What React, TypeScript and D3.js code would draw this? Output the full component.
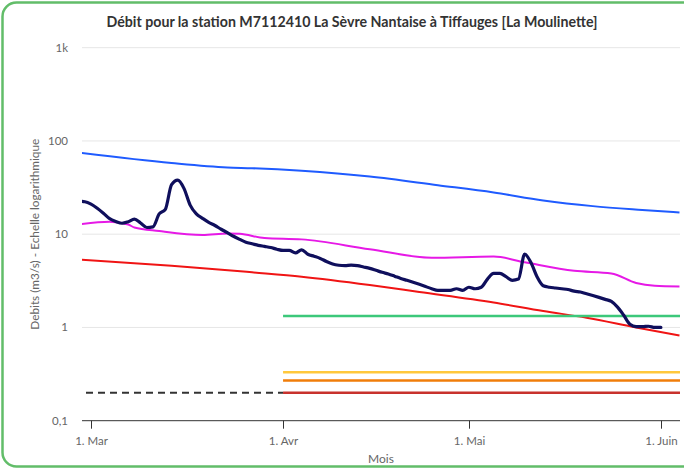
import React, { Component } from 'react'
import { select, scaleLog, scaleTime, line, curveMonotoneX, timeParse, timeDay } from 'd3'

const WIDTH = 684
const HEIGHT = 470

const title = 'Débit pour la station M7112410 La Sèvre Nantaise à Tiffauges [La Moulinette]'
const yTitle = 'Debits (m3/s) - Echelle logarithmique'
const xTitle = 'Mois'

// daily discharge (m3/s), one value per day starting at flowStart
const flowStart = '2023-02-27'
const flowValues = [
  22.6, 22.3, 21, 19, 16.8, 14.7, 13.7, 13.1, 13.6, 14.5,
  13.2, 11.8, 12.0, 16.5, 18.5, 34, 38, 31, 20.5, 16.5,
  14.8, 13.4, 12.4, 11.3, 10.4, 9.5, 8.8, 8.2, 7.9, 7.6,
  7.4, 7.2, 6.9, 6.7, 6.7, 6.3, 6.8, 6.1, 5.8, 5.5,
  5.1, 4.8, 4.65, 4.6, 4.65, 4.6, 4.45, 4.3, 4.1, 3.9,
  3.75, 3.55, 3.35, 3.2, 3.05, 2.9, 2.75, 2.6, 2.5, 2.5,
  2.5, 2.6, 2.5, 2.7, 2.6, 2.7, 3.3, 3.8, 3.8, 3.5,
  3.2, 3.3, 6.1, 5.0, 3.5, 2.8, 2.7, 2.65, 2.6, 2.55,
  2.45, 2.4, 2.3, 2.2, 2.1, 2.0, 1.9, 1.65, 1.35, 1.08,
  1.02, 1.02, 1.03, 1.0, 1.0
]

// reference curves
const blueDates = ['2023-02-27', '2023-03-14', '2023-03-23', '2023-03-27', '2023-04-04', '2023-04-15', '2023-04-26', '2023-05-05', '2023-05-13', '2023-05-21', '2023-05-29', '2023-06-04']
const blueValues = [75, 58, 52, 51, 47.8, 41.5, 33.5, 28, 23, 20, 18.2, 17.1]

const magentaDates = ['2023-02-27', '2023-03-04', '2023-03-07', '2023-03-08', '2023-03-12', '2023-03-19', '2023-03-23', '2023-03-25', '2023-03-29', '2023-04-04', '2023-04-15', '2023-04-25', '2023-05-05', '2023-05-10', '2023-05-18', '2023-05-24', '2023-05-28', '2023-05-31', '2023-06-04']
const magentaValues = [12.7, 13.6, 12.7, 11.8, 10.8, 9.8, 10.2, 10.1, 9.1, 8.8, 6.9, 5.6, 5.75, 5.0, 4.05, 3.8, 3.0, 2.8, 2.75]

const redDates = ['2023-02-27', '2023-03-14', '2023-03-27', '2023-04-04', '2023-04-15', '2023-04-23', '2023-05-05', '2023-05-13', '2023-05-20', '2023-05-28', '2023-06-04']
const redValues = [5.35, 4.6, 3.9, 3.5, 2.85, 2.4, 1.85, 1.5, 1.27, 1.0, 0.82]

// alert thresholds, from 1 April
const thresholdStart = '2023-04-01'
const thresholdValues = [1.33, 0.33, 0.27, 0.2]
const thresholdColors = ['#3cc87a', '#ffc83c', '#f07d0a', '#c8322d']
const dashedValue = 0.2

const yTickValues = [0.1, 1, 10, 100, 1000]
const yTickLabels = ['0,1', '1', '10', '100', '1k']
const xTickDates = ['2023-03-01', '2023-04-01', '2023-05-01', '2023-06-01']
const xTickLabels = ['1. Mar', '1. Avr', '1. Mai', '1. Juin']

const parse = timeParse('%Y-%m-%d')
const font = 'Lato, "Open Sans", sans-serif'

class FlowChart extends Component {
  node: any

  componentDidMount() {
    this.createChart()
  }

  createChart = () => {
    const svg = select(this.node)
    svg.selectAll('*').remove()

    const left = 82, right = 680, top = 47.7, bottom = 420.7

    const x = scaleTime()
      .domain([new Date(2023, 1, 27, 13), new Date(2023, 5, 4, 2)])
      .range([left, right])
    const y = scaleLog().domain([0.1, 1000]).range([bottom, top])

    // card border
    svg.append('rect')
      .attr('x', 2.5).attr('y', 2.5)
      .attr('width', 740).attr('height', 464)
      .attr('rx', 14)
      .attr('fill', '#fff')
      .attr('stroke', '#62bd69')
      .attr('stroke-width', 2.5)

    svg.append('defs').append('clipPath').attr('id', 'plot')
      .append('rect')
      .attr('x', left).attr('y', top - 5)
      .attr('width', right - left).attr('height', bottom - top + 5)

    // grid + y labels
    yTickValues.forEach((v, i) => {
      if (v > 0.1) {
        svg.append('line')
          .attr('x1', left).attr('x2', right)
          .attr('y1', y(v)).attr('y2', y(v))
          .attr('stroke', '#e6e6e6').attr('stroke-width', 1)
      }
      svg.append('text')
        .attr('x', 68).attr('y', y(v) + 4)
        .attr('text-anchor', 'end')
        .attr('font-family', font).attr('font-size', 11.5)
        .attr('fill', '#666')
        .text(yTickLabels[i])
    })

    // x axis
    svg.append('line')
      .attr('x1', left).attr('x2', right)
      .attr('y1', bottom).attr('y2', bottom)
      .attr('stroke', '#333').attr('stroke-width', 1)
    xTickDates.forEach((d, i) => {
      const px = Math.round(x(parse(d))) + 0.5
      svg.append('line')
        .attr('x1', px).attr('x2', px)
        .attr('y1', bottom).attr('y2', bottom + 8)
        .attr('stroke', '#333').attr('stroke-width', 1)
      svg.append('text')
        .attr('x', px).attr('y', bottom + 24)
        .attr('text-anchor', 'middle')
        .attr('font-family', font).attr('font-size', 11.5)
        .attr('fill', '#666')
        .text(xTickLabels[i])
    })

    const g = svg.append('g').attr('clip-path', 'url(#plot)')

    const curve = line<any>()
      .x(d => x(d[0]))
      .y(d => y(d[1]))
      .curve(curveMonotoneX)

    const drawCurve = (dates: string[], values: number[], color: string, w: number) => {
      g.append('path')
        .datum(dates.map((d, i) => [parse(d), values[i]]))
        .attr('fill', 'none')
        .attr('stroke', color)
        .attr('stroke-width', w)
        .attr('stroke-linejoin', 'round')
        .attr('d', curve)
    }

    drawCurve(blueDates, blueValues, '#1f5bff', 2)
    drawCurve(magentaDates, magentaValues, '#e619e6', 2)
    drawCurve(redDates, redValues, '#f01414', 2)

    // thresholds
    const tStart = parse(thresholdStart)
    thresholdValues.forEach((v, i) => {
      g.append('line')
        .attr('x1', x(tStart)).attr('x2', right)
        .attr('y1', y(v)).attr('y2', y(v))
        .attr('stroke', thresholdColors[i]).attr('stroke-width', 2.5)
    })
    g.append('line')
      .attr('x1', left + 4).attr('x2', x(tStart))
      .attr('y1', y(dashedValue)).attr('y2', y(dashedValue))
      .attr('stroke', '#333').attr('stroke-width', 2)
      .attr('stroke-dasharray', '7,5')

    // observed discharge
    const start = parse(flowStart)
    g.append('path')
      .datum(flowValues.map((v, i) => [timeDay.offset(start, i), v]))
      .attr('fill', 'none')
      .attr('stroke', '#0f0f5c')
      .attr('stroke-width', 3.2)
      .attr('stroke-linejoin', 'round')
      .attr('stroke-linecap', 'round')
      .attr('d', curve)

    // titles
    svg.append('text')
      .attr('x', 352).attr('y', 27)
      .attr('text-anchor', 'middle')
      .attr('font-family', font).attr('font-size', 14.2).attr('font-weight', 'bold')
      .attr('fill', '#333')
      .text(title)
    svg.append('text')
      .attr('x', (left + right) / 2).attr('y', 463)
      .attr('text-anchor', 'middle')
      .attr('font-family', font).attr('font-size', 12)
      .attr('fill', '#666')
      .text(xTitle)
    svg.append('text')
      .attr('transform', `translate(39,${(top + bottom) / 2}) rotate(-90)`)
      .attr('text-anchor', 'middle')
      .attr('font-family', font).attr('font-size', 11.8)
      .attr('fill', '#666')
      .text(yTitle)
  }

  render() {
    return (
      <svg
        ref={node => { this.node = node }}
        width={WIDTH}
        height={HEIGHT}
        style={{ position: 'absolute', left: 0, top: 0 }}
      />
    )
  }
}

export default function App() {
  return <FlowChart />
}
